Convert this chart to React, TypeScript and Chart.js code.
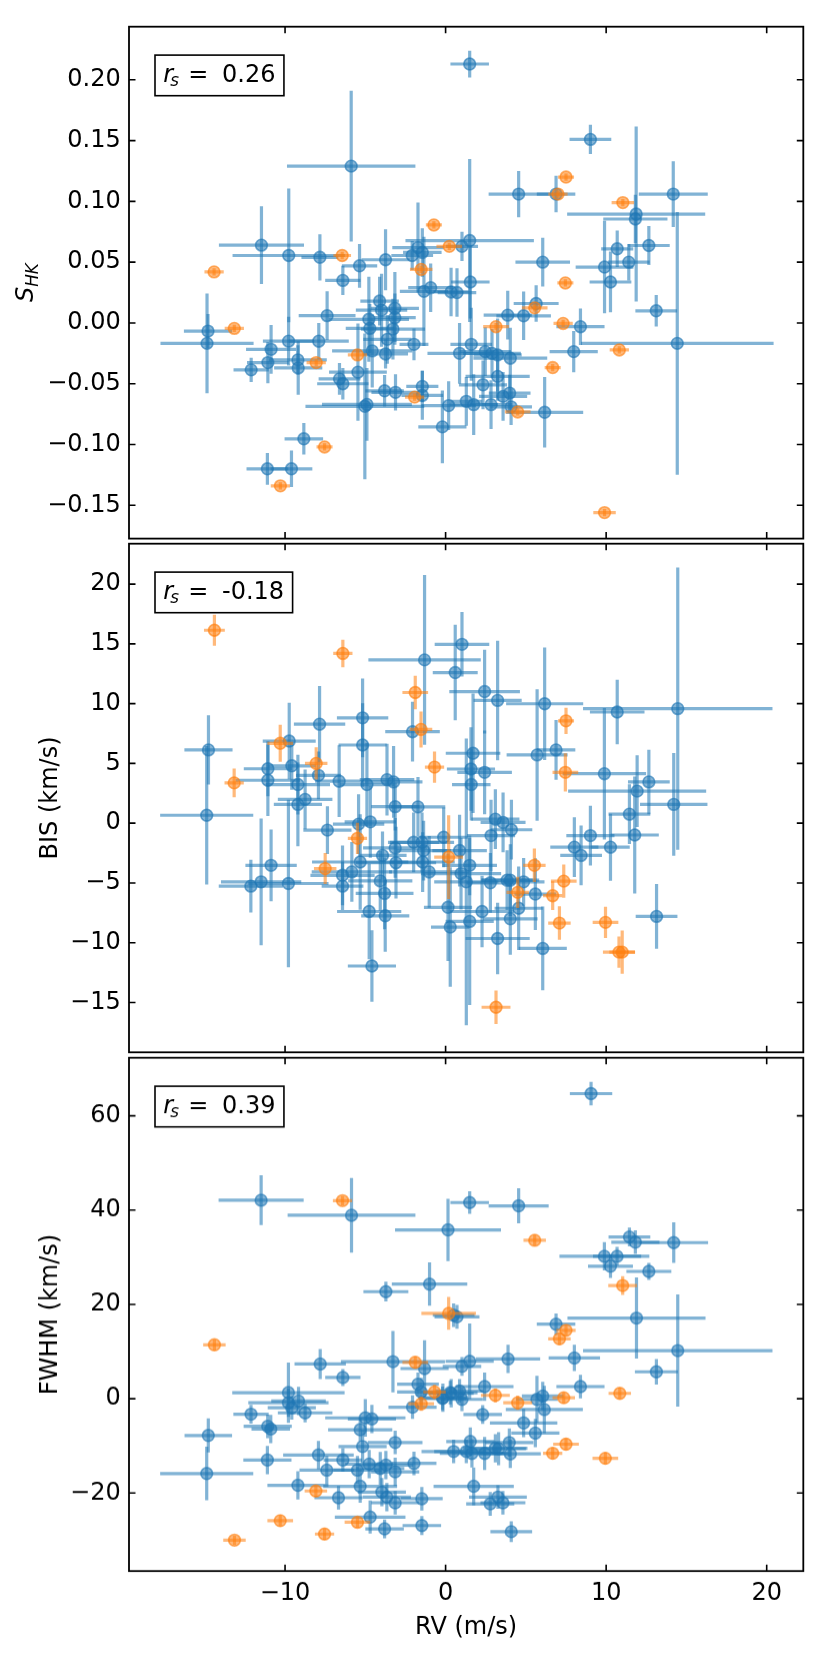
import { useEffect, useRef } from "react";
import Chart from "chart.js/auto";

// [RV, RV err, value, value err]
type Row = [number, number, number, number];

const rvTicks = [-10, 0, 10, 20];
const shkTicks = [-0.15, -0.1, -0.05, 0, 0.05, 0.1, 0.15, 0.2];
const bisTicks = [-15, -10, -5, 0, 5, 10, 15, 20];
const fwhmTicks = [-20, 0, 20, 40, 60];
const rsValues = ["0.26", "-0.18", "0.39"];

const shkBlue: Row[] = [
  [-5.88, 4.0, 0.129, 0.062], [-11.47, 2.65, 0.064, 0.032], [-9.77, 3.5, 0.0555, 0.055], [-7.83, 1.15, 0.054, 0.019],
  [-5.36, 1.1, 0.047, 0.018], [-3.74, 1.5, 0.052, 0.025], [-2.08, 1.3, 0.0555, 0.012], [-1.72, 1.6, 0.062, 0.037],
  [-1.45, 1.2, 0.058, 0.02], [-6.4, 1.1, 0.035, 0.012], [-1.35, 1.5, 0.026, 0.045], [-0.93, 1.4, 0.029, 0.02],
  [-7.38, 1.77, 0.006, 0.02], [-14.8, 1.5, -0.0067, 0.014], [-14.86, 2.9, -0.0168, 0.041], [-9.78, 1.6, -0.015, 0.02],
  [-7.9, 1.87, -0.015, 0.015], [-10.87, 1.56, -0.0217, 0.02], [-11.07, 1.3, -0.0326, 0.017], [-12.11, 1.1, -0.0386, 0.01],
  [-9.2, 1.8, -0.0304, 0.012], [-9.18, 1.5, -0.037, 0.022], [-6.61, 1.3, -0.046, 0.013], [-6.4, 1.6, -0.05, 0.013],
  [-5.46, 1.8, -0.0405, 0.04], [-4.78, 2.5, 0.003, 0.035], [-4.72, 1.5, -0.0045, 0.02], [-4.11, 1.2, 0.018, 0.02],
  [-3.99, 1.6, 0.0105, 0.03], [-3.16, 1.5, 0.012, 0.03], [-3.16, 1.3, 0.0043, 0.02], [-3.28, 2.0, -0.005, 0.025],
  [-3.63, 1.5, -0.0135, 0.02], [-4.57, 2.5, -0.023, 0.03], [-3.74, 1.4, -0.0255, 0.012], [-1.97, 0.9, -0.0176, 0.013],
  [-3.8, 1.2, -0.0558, 0.013], [-3.12, 1.5, -0.0571, 0.015], [-1.45, 1.0, -0.0522, 0.013], [-1.45, 1.3, -0.0596, 0.02],
  [-5.03, 3.7, -0.0686, 0.06], [-4.9, 2.8, -0.067, 0.03], [-0.2, 1.5, -0.0855, 0.03], [-8.83, 1.2, -0.0953, 0.013],
  [-11.1, 1.3, -0.12, 0.013], [-9.6, 1.3, -0.12, 0.015], [1.5, 1.2, 0.213, 0.011], [9.02, 1.3, 0.151, 0.012],
  [4.55, 1.87, 0.106, 0.019], [6.88, 1.2, 0.106, 0.015], [14.18, 2.15, 0.106, 0.027], [11.87, 4.3, 0.0896, 0.072],
  [11.82, 2.0, 0.0855, 0.02], [10.69, 1.0, 0.061, 0.015], [12.66, 1.3, 0.0637, 0.016], [11.41, 1.3, 0.05, 0.015],
  [9.9, 1.8, 0.046, 0.038], [6.05, 1.7, 0.05, 0.02], [1.5, 4.0, 0.0678, 0.067], [1.02, 1.0, 0.063, 0.012],
  [10.27, 1.3, 0.0337, 0.025], [13.12, 1.3, 0.01, 0.013], [8.4, 1.5, -0.0031, 0.015], [7.98, 1.5, -0.0236, 0.017],
  [14.43, 6.0, -0.0168, 0.108], [1.54, 1.2, 0.0337, 0.03], [0.34, 1.1, 0.0255, 0.02], [0.71, 1.2, 0.025, 0.02],
  [5.64, 1.4, 0.016, 0.015], [3.87, 1.5, 0.0064, 0.02], [4.86, 1.7, 0.0059, 0.02], [1.6, 1.3, -0.0176, 0.03],
  [0.87, 2.0, -0.025, 0.025], [2.47, 1.6, -0.0236, 0.02], [2.89, 1.8, -0.025, 0.02], [3.24, 1.5, -0.0263, 0.03],
  [4.03, 2.3, -0.029, 0.025], [3.24, 2.0, -0.044, 0.02], [2.33, 1.5, -0.0509, 0.02], [1.29, 1.0, -0.0645, 0.02],
  [1.75, 1.5, -0.0672, 0.025], [0.19, 1.7, -0.068, 0.02], [2.83, 1.3, -0.0672, 0.02], [3.58, 1.5, -0.0604, 0.02],
  [3.99, 1.3, -0.0577, 0.015], [4.08, 1.3, -0.069, 0.015], [6.17, 2.4, -0.0735, 0.029],
];

const shkOrange: Row[] = [
  [-14.42, 0.6, 0.042, 0.003], [-13.16, 0.6, -0.0045, 0.003], [-10.29, 0.6, -0.134, 0.003], [-7.54, 0.5, -0.102, 0.003],
  [-8.06, 0.6, -0.0326, 0.003], [-6.44, 0.55, 0.0555, 0.003], [-5.49, 0.6, -0.0263, 0.004], [-1.93, 0.6, -0.061, 0.003],
  [-1.52, 0.7, 0.044, 0.003], [-0.73, 0.5, 0.0806, 0.003], [0.23, 0.8, 0.063, 0.003], [3.14, 0.8, -0.0031, 0.003],
  [4.49, 0.8, -0.0732, 0.003], [5.55, 0.8, 0.0124, 0.003], [6.67, 0.5, -0.0367, 0.003], [7.0, 0.6, 0.106, 0.003],
  [7.5, 0.5, 0.12, 0.003], [7.46, 0.5, 0.0329, 0.003], [7.32, 0.6, -0.0004, 0.003], [9.9, 0.7, -0.156, 0.003],
  [10.82, 0.6, -0.0222, 0.003], [11.04, 0.7, 0.099, 0.003],
];

const bisBlue: Row[] = [
  [-1.31, 3.5, 13.66, 7.1], [0.6, 1.4, 12.6, 4.0], [-14.77, 1.5, 6.13, 2.9], [-14.88, 2.9, 0.66, 5.8],
  [-7.85, 1.6, 8.28, 3.2], [-5.17, 1.6, 8.81, 3.3], [-5.17, 1.5, 6.54, 3.5], [-9.74, 1.65, 6.87, 3.2],
  [-9.58, 1.5, 4.8, 2.0], [-11.07, 1.5, 4.55, 2.3], [-11.07, 2.0, 3.59, 3.0], [-9.2, 2.0, 3.23, 2.5],
  [-7.92, 1.4, 4.0, 2.0], [-6.63, 1.5, 3.51, 3.0], [-4.9, 1.7, 3.23, 3.5], [-3.65, 1.7, 3.64, 3.0],
  [-3.24, 1.8, 3.45, 3.0], [-2.06, 1.7, 7.65, 2.5], [-9.2, 1.5, 1.57, 3.5], [-8.75, 1.7, 1.99, 2.5],
  [-3.14, 1.5, 1.38, 2.0], [-1.72, 1.7, 1.36, 2.5], [-7.36, 1.5, -0.58, 2.0], [-5.42, 1.6, -0.08, 2.5],
  [-4.69, 1.6, 0.11, 3.0], [-1.99, 1.6, -1.6, 2.5], [-1.47, 2.0, -1.6, 2.5], [-0.12, 1.5, -1.18, 2.5],
  [-1.37, 1.7, -2.29, 2.5], [-3.14, 2.0, -2.07, 2.5], [-3.93, 1.5, -2.7, 2.0], [-5.32, 3.0, -3.25, 4.0],
  [-3.09, 2.5, -3.31, 3.0], [-1.43, 2.0, -3.25, 2.5], [-1.02, 2.5, -4.08, 3.0], [-5.84, 2.5, -4.08, 2.5],
  [-6.42, 2.0, -4.36, 2.5], [-6.42, 1.3, -5.27, 2.0], [-4.07, 2.0, -4.83, 2.5], [-3.8, 1.8, -5.88, 3.0],
  [-4.76, 2.0, -7.39, 4.0], [-3.76, 1.5, -7.75, 3.0], [-4.59, 1.5, -11.95, 3.0], [-10.87, 1.6, -3.53, 3.0],
  [-12.13, 2.0, -5.27, 2.2], [-11.49, 2.5, -4.91, 5.3], [-9.79, 2.5, -5.05, 7.0], [0.15, 1.5, -7.04, 4.5],
  [0.29, 1.2, -8.69, 5.0], [1.02, 1.7, 14.96, 2.7], [2.43, 2.2, 11.01, 3.5], [3.24, 1.5, 10.27, 5.0],
  [6.17, 2.4, 9.99, 4.7], [10.69, 1.7, 9.3, 2.7], [14.46, 5.9, 9.58, 11.8], [1.71, 1.7, 5.85, 5.0],
  [1.58, 1.5, 4.53, 3.5], [2.43, 1.7, 4.25, 3.5], [1.6, 1.2, 3.23, 3.0], [5.7, 1.9, 5.71, 5.5],
  [6.88, 1.2, 6.13, 2.5], [9.89, 2.6, 4.14, 5.5], [12.66, 1.3, 3.45, 2.7], [11.93, 4.3, 2.68, 3.0],
  [11.78, 1.5, -0.99, 4.9], [14.21, 2.1, 1.57, 4.3], [11.45, 1.3, 0.75, 2.5], [9.02, 1.5, -1.04, 2.5],
  [8.02, 1.5, -2.01, 2.5], [8.44, 1.3, -2.7, 2.5], [10.27, 1.2, -2.01, 2.8], [13.14, 1.3, -7.8, 2.7],
  [3.1, 1.5, 0.33, 2.5], [3.58, 1.4, 0.06, 2.5], [4.1, 1.3, -0.55, 2.5], [2.83, 1.5, -1.04, 3.0],
  [0.87, 1.7, -2.29, 3.0], [1.5, 1.7, -3.53, 2.5], [0.96, 2.5, -4.22, 3.0], [1.29, 2.0, -4.91, 12.0],
  [2.79, 1.5, -4.99, 2.5], [3.83, 1.6, -4.77, 2.5], [4.03, 1.8, -4.77, 3.0], [4.86, 1.3, -4.91, 2.0],
  [5.59, 1.3, -5.93, 3.0], [4.55, 1.5, -7.12, 3.5], [4.03, 1.7, -8.0, 3.0], [2.27, 2.0, -7.39, 3.0],
  [1.5, 1.5, -8.22, 7.0], [3.24, 2.0, -9.65, 3.0], [6.05, 1.5, -10.48, 3.5],
];

const bisOrange: Row[] = [
  [-14.4, 0.65, 16.14, 1.3], [-13.17, 0.6, 3.37, 1.2], [-10.3, 0.8, 6.68, 1.55], [-8.06, 0.7, 5.0, 1.35],
  [-7.5, 0.7, -3.8, 1.3], [-6.4, 0.6, 14.2, 1.15], [-5.49, 0.6, -1.27, 1.3], [-1.89, 0.8, 10.93, 1.4],
  [-1.53, 0.7, 7.84, 1.5], [-0.69, 0.6, 4.69, 1.3], [0.19, 0.9, -2.84, 3.5], [3.14, 0.9, -15.4, 1.4],
  [4.49, 0.7, -5.79, 1.3], [5.53, 0.7, -3.53, 1.4], [6.67, 0.6, -6.07, 1.2], [7.09, 0.7, -8.36, 1.4],
  [7.5, 0.5, 8.56, 1.1], [7.46, 0.8, 4.25, 1.6], [7.36, 0.8, -4.85, 1.4], [9.96, 0.8, -8.3, 1.3],
  [10.8, 1.0, -10.79, 1.3], [11.0, 0.8, -10.79, 1.8],
];

const fwhmBlue: Row[] = [
  [-11.49, 2.65, 42.1, 5.3], [-5.86, 3.98, 38.9, 7.9], [0.15, 3.3, 35.8, 6.6], [-1.0, 2.35, 24.3, 4.6],
  [-3.72, 1.4, 22.7, 2.1], [0.5, 1.3, 17.7, 2.5], [-7.81, 1.6, 7.36, 3.2], [-6.4, 1.1, 4.5, 1.8],
  [-3.28, 3.24, 7.86, 6.5], [-1.31, 1.5, 6.4, 6.0], [-1.72, 1.3, 3.07, 2.5], [-1.52, 1.5, 1.43, 3.0],
  [-2.06, 1.5, -1.8, 2.5], [-0.19, 1.5, 0.07, 2.5], [0.35, 1.4, 1.14, 3.0], [-9.79, 3.5, 1.29, 6.4],
  [-9.79, 2.5, -0.86, 3.0], [-9.16, 1.7, -0.5, 3.0], [-9.58, 1.5, -1.93, 2.5], [-8.75, 1.7, -3.0, 2.0],
  [-12.12, 1.1, -3.29, 2.0], [-11.08, 1.5, -5.86, 2.5], [-10.89, 1.2, -6.43, 3.0], [-14.78, 1.48, -7.79, 3.6],
  [-14.88, 2.9, -15.86, 5.7], [-11.1, 1.5, -13.0, 3.0], [-5.0, 2.5, -4.07, 4.0], [-4.59, 1.5, -4.29, 3.0],
  [-5.32, 2.0, -6.57, 2.5], [-5.17, 1.5, -10.14, 3.5], [-3.14, 1.7, -9.29, 2.5], [-7.92, 2.2, -11.93, 3.0],
  [-6.4, 1.2, -13.0, 2.5], [-7.4, 1.7, -15.14, 3.0], [-5.49, 1.5, -15.14, 3.0], [-4.76, 1.5, -13.86, 3.0],
  [-4.07, 1.5, -14.79, 3.5], [-3.72, 1.7, -14.07, 3.0], [-3.14, 1.5, -15.5, 3.0], [-1.97, 1.4, -13.71, 2.5],
  [-9.2, 1.9, -18.36, 3.0], [-5.32, 2.3, -18.57, 3.5], [-6.67, 1.5, -21.0, 2.5], [-3.97, 1.5, -19.8, 3.0],
  [-3.66, 1.5, -20.86, 3.0], [-3.14, 1.5, -22.07, 2.5], [-1.48, 1.3, -21.2, 2.5], [-4.7, 2.2, -25.1, 3.5],
  [-3.8, 1.2, -27.6, 2.0], [-1.48, 1.2, -26.9, 2.0], [9.06, 1.32, 64.7, 2.5], [1.5, 1.2, 41.6, 2.4],
  [4.55, 1.87, 40.9, 3.7], [11.45, 1.3, 34.3, 2.0], [11.82, 1.5, 33.2, 2.5], [14.21, 2.14, 33.1, 4.3],
  [9.89, 2.8, 30.2, 3.0], [10.68, 1.5, 30.2, 2.0], [10.27, 1.4, 28.1, 2.5], [12.66, 1.4, 27.0, 1.8],
  [11.89, 4.3, 17.1, 8.6], [14.46, 5.9, 10.2, 11.9], [13.13, 1.34, 5.7, 2.7], [6.88, 1.2, 15.8, 2.3],
  [8.02, 1.6, 8.64, 2.8], [8.4, 1.5, 2.57, 2.5], [0.71, 1.4, 17.36, 2.5], [3.89, 2.0, 8.43, 3.0],
  [1.5, 1.5, 7.93, 8.0], [1.02, 1.2, 6.86, 2.0], [2.43, 1.8, 2.57, 3.0], [-0.17, 1.5, 0.21, 3.0],
  [0.29, 1.7, 1.29, 2.5], [0.87, 1.5, 1.64, 2.5], [1.02, 1.3, -0.14, 2.5], [6.05, 1.3, 0.57, 3.0],
  [5.69, 1.3, -0.14, 5.0], [6.15, 2.4, -2.29, 5.0], [2.31, 1.2, -3.36, 2.0], [4.86, 2.1, -5.14, 3.0],
  [5.59, 1.5, -7.29, 3.0], [1.54, 1.5, -9.07, 3.0], [1.29, 2.0, -11.2, 2.5], [1.64, 2.0, -11.6, 3.0],
  [2.43, 1.5, -11.6, 3.5], [3.1, 2.0, -10.5, 3.0], [3.3, 1.7, -10.6, 3.5], [3.97, 1.5, -9.29, 3.0],
  [4.03, 1.9, -11.7, 3.0], [1.75, 2.5, -18.57, 4.0], [3.26, 1.8, -20.86, 2.5], [2.78, 1.5, -22.3, 2.5],
  [3.57, 1.4, -22.07, 2.5], [4.09, 1.3, -28.2, 2.2], [0.5, 2.0, -11.2, 2.5],
];

const fwhmOrange: Row[] = [
  [-6.42, 0.6, 42.0, 1.0], [-14.4, 0.7, 11.43, 1.2], [-1.89, 0.8, 7.71, 1.3], [-0.69, 0.7, 1.43, 1.5],
  [-1.52, 0.8, -1.07, 1.5], [-8.08, 0.7, -19.57, 1.2], [-10.3, 0.8, -25.86, 1.2], [-5.49, 0.8, -26.2, 1.2],
  [-7.54, 0.6, -28.7, 1.2], [-13.15, 0.7, -30.0, 1.0], [5.55, 0.7, 33.6, 1.2], [11.03, 0.9, 24.0, 2.0],
  [0.19, 1.7, 18.1, 3.5], [7.5, 0.6, 14.5, 1.2], [7.09, 0.7, 12.7, 1.3], [3.1, 0.9, 0.71, 1.5],
  [4.49, 0.9, -0.86, 1.5], [7.36, 0.7, 0.21, 1.2], [10.85, 0.7, 1.14, 1.2], [7.5, 0.8, -9.64, 1.3],
  [6.67, 0.6, -11.57, 1.3], [9.95, 0.8, -12.64, 1.3],
];

const X_MIN = -19.72;
const X_MAX = 22.28;
const FONT = "'DejaVu Sans', sans-serif";
const PLOT_LEFT = 129;
const PLOT_RIGHT = 803.3;
const PAGE_H = 1661;

const fmt = (v: number, d: number) => (v < 0 ? "\u2212" : "") + Math.abs(v).toFixed(d);

const panels = [
  { blue: shkBlue, orange: shkOrange, yMin: -0.1774, yMax: 0.2437, ticks: shkTicks, dec: 2, rs: rsValues[0],
    label: "shk", top: 26.7, bottom: 541.3, wrapTop: 0, wrapBottom: 561.3, showX: false },
  { blue: bisBlue, orange: bisOrange, yMin: -19.17, yMax: 23.38, ticks: bisTicks, dec: 0, rs: rsValues[1],
    label: "BIS (km/s)", top: 541.3, bottom: 1055.3, wrapTop: 521.3, wrapBottom: 1075.3, showX: false },
  { blue: fwhmBlue, orange: fwhmOrange, yMin: -36.55, yMax: 72.3, ticks: fwhmTicks, dec: 0, rs: rsValues[2],
    label: "FWHM (km/s)", top: 1055.3, bottom: 1570.5, wrapTop: 1035.3, wrapBottom: PAGE_H, showX: true },
];

const errorBars = {
  id: "errorBars",
  beforeDatasetDraw(chart: any, args: any) {
    const ds = chart.data.datasets[args.index];
    const xs = chart.scales.x, ys = chart.scales.y;
    const a = chart.chartArea;
    const ctx = chart.ctx;
    ctx.save();
    ctx.beginPath();
    ctx.rect(a.left, a.top, a.right - a.left, a.bottom - a.top);
    ctx.clip();
    ctx.strokeStyle = ds.errColor;
    ctx.lineWidth = 3.2;
    for (const p of ds.data) {
      const px = xs.getPixelForValue(p.x), py = ys.getPixelForValue(p.y);
      ctx.beginPath();
      ctx.moveTo(xs.getPixelForValue(p.x - p.xerr), py);
      ctx.lineTo(xs.getPixelForValue(p.x + p.xerr), py);
      ctx.stroke();
      ctx.beginPath();
      ctx.moveTo(px, ys.getPixelForValue(p.y - p.yerr));
      ctx.lineTo(px, ys.getPixelForValue(p.y + p.yerr));
      ctx.stroke();
    }
    ctx.restore();
  },
};

const decor = {
  id: "decor",
  afterDraw(chart: any, _args: any, opts: any) {
    const { ctx, chartArea: a } = chart;
    const xs = chart.scales.x, ys = chart.scales.y;
    ctx.save();
    ctx.strokeStyle = "#000";
    ctx.fillStyle = "#000";
    // frame
    ctx.lineWidth = 1.8;
    ctx.strokeRect(a.left, a.top, a.right - a.left, a.bottom - a.top);
    // inward ticks on all sides
    ctx.lineWidth = 1.6;
    const tl = 6.5;
    ctx.beginPath();
    for (const v of rvTicks) {
      const px = xs.getPixelForValue(v);
      ctx.moveTo(px, a.bottom); ctx.lineTo(px, a.bottom - tl);
      ctx.moveTo(px, a.top); ctx.lineTo(px, a.top + tl);
    }
    for (const v of opts.ticks) {
      const py = ys.getPixelForValue(v);
      ctx.moveTo(a.left, py); ctx.lineTo(a.left + tl, py);
      ctx.moveTo(a.right, py); ctx.lineTo(a.right - tl, py);
    }
    ctx.stroke();

    // r_s annotation box
    const bx = 155, by = a.top + 28.4, bh = 40.6;
    const base = by + 26.7;
    ctx.textBaseline = "alphabetic";
    ctx.textAlign = "left";
    ctx.font = `italic 24px ${FONT}`;
    ctx.fillText("r", bx + 8.2, base);
    ctx.font = `italic 16.8px ${FONT}`;
    ctx.fillText("s", bx + 15.3, base + 4);
    ctx.font = `24px ${FONT}`;
    ctx.fillText("=", bx + 33.2, base);
    ctx.fillText(opts.rs, bx + 67, base);
    const tw = ctx.measureText(opts.rs).width;
    ctx.lineWidth = 1.6;
    ctx.strokeRect(bx, by, 67 + tw + 8.5, bh);

    // y label
    const cy = (a.top + a.bottom) / 2;
    if (opts.label === "shk") {
      ctx.save();
      ctx.translate(33.3, cy);
      ctx.rotate(-Math.PI / 2);
      ctx.font = `italic 24px ${FONT}`;
      const wS = ctx.measureText("S").width;
      ctx.font = `italic 16.8px ${FONT}`;
      const wH = ctx.measureText("HK").width;
      const x0 = -(wS + wH) / 2;
      ctx.font = `italic 24px ${FONT}`;
      ctx.fillText("S", x0, 0);
      ctx.font = `italic 16.8px ${FONT}`;
      ctx.fillText("HK", x0 + wS, 4.5);
      ctx.restore();
    } else {
      ctx.save();
      ctx.translate(57.3, cy);
      ctx.rotate(-Math.PI / 2);
      ctx.textAlign = "center";
      ctx.font = `24px ${FONT}`;
      ctx.fillText(opts.label, 0, 0);
      ctx.restore();
    }

    // x label
    if (opts.showX) {
      ctx.textAlign = "center";
      ctx.font = `24px ${FONT}`;
      ctx.fillText("RV (m/s)", (a.left + a.right) / 2, a.bottom + 63.1);
    }
    ctx.restore();
  },
};

function makeChart(canvas: HTMLCanvasElement, p: (typeof panels)[number]) {
  const toPts = (rows: Row[]) => rows.map(([x, xerr, y, yerr]) => ({ x, y, xerr, yerr }));
  const wrapH = p.wrapBottom - p.wrapTop;
  const xAxisH = p.wrapBottom - p.bottom;
  return new Chart(canvas, {
    type: "scatter",
    data: {
      datasets: [
        {
          data: toPts(p.orange) as any,
          errColor: "rgba(255,127,14,0.55)",
          backgroundColor: "rgba(255,127,14,0.55)",
          borderColor: "rgba(255,127,14,0.6)",
          pointRadius: 5.9,
          borderWidth: 1.6,
        } as any,
        {
          data: toPts(p.blue) as any,
          errColor: "rgba(31,119,180,0.56)",
          backgroundColor: "rgba(31,119,180,0.55)",
          borderColor: "rgba(31,119,180,0.6)",
          pointRadius: 5.9,
          borderWidth: 1.6,
        } as any,
      ],
    },
    options: {
      animation: false,
      responsive: true,
      maintainAspectRatio: false,
      events: [],
      layout: {
        padding: {
          left: 0,
          right: 830 - PLOT_RIGHT,
          top: p.top - p.wrapTop,
          bottom: p.showX ? 0 : wrapH - (p.bottom - p.wrapTop),
        },
      },
      plugins: {
        legend: { display: false },
        tooltip: { enabled: false },
        decor: { ticks: p.ticks, rs: p.rs, label: p.label, showX: p.showX },
      } as any,
      scales: {
        x: {
          type: "linear",
          min: X_MIN,
          max: X_MAX,
          display: p.showX,
          grid: { display: false, drawTicks: false },
          border: { display: false },
          afterBuildTicks: (s: any) => { s.ticks = rvTicks.map((v) => ({ value: v })); },
          afterFit: (s: any) => { s.height = p.showX ? xAxisH : 0; },
          ticks: {
            includeBounds: false,
            padding: 8,
            maxRotation: 0,
            autoSkip: false,
            color: "#000",
            font: { family: FONT, size: 24 },
            callback: (v: any) => fmt(Number(v), 0),
          },
        },
        y: {
          type: "linear",
          min: p.yMin,
          max: p.yMax,
          grid: { display: false, drawTicks: false },
          border: { display: false },
          afterBuildTicks: (s: any) => { s.ticks = p.ticks.map((v) => ({ value: v })); },
          afterFit: (s: any) => { s.width = PLOT_LEFT; },
          ticks: {
            includeBounds: false,
            padding: 8.3,
            autoSkip: false,
            color: "#000",
            font: { family: FONT, size: 24 },
            callback: (v: any) => fmt(Number(v), p.dec),
          },
        },
      },
    },
    plugins: [errorBars, decor],
  });
}

export default function App() {
  const r0 = useRef<HTMLCanvasElement>(null);
  const r1 = useRef<HTMLCanvasElement>(null);
  const r2 = useRef<HTMLCanvasElement>(null);

  useEffect(() => {
    document.body.style.margin = "0";
    const refs = [r0, r1, r2];
    const charts = panels.map((p, i) => makeChart(refs[i].current!, p));
    return () => charts.forEach((c) => c.destroy());
  }, []);

  const refs = [r0, r1, r2];
  return (
    <div style={{ position: "relative", width: 830, height: PAGE_H, background: "#fff" }}>
      {panels.map((p, i) => (
        <div
          key={i}
          style={{ position: "absolute", left: 0, top: p.wrapTop, width: 830, height: p.wrapBottom - p.wrapTop }}
        >
          <canvas ref={refs[i]} />
        </div>
      ))}
    </div>
  );
}
